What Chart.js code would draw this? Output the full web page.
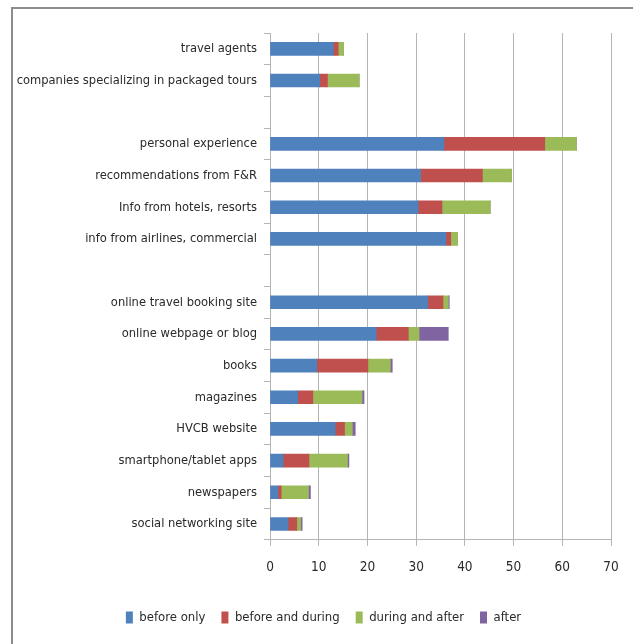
<!DOCTYPE html>
<html>
<head>
<meta charset="utf-8">
<script src="https://cdn.jsdelivr.net/npm/chart.js@4"></script>
<style>
  html, body { margin: 0; padding: 0; background: #fff; overflow: hidden; }
</style>
</head>
<body>
<canvas id="sourcesChart" width="633" height="644"></canvas>
<script>
// sources of travel info, blank entries leave a gap between groups
const categories = [
  'travel agents',
  'companies specializing in packaged tours',
  '',
  'personal experience',
  'recommendations from F&R',
  'Info from hotels, resorts',
  'info from airlines, commercial',
  '',
  'online travel booking site',
  'online webpage or blog',
  'books',
  'magazines',
  'HVCB website',
  'smartphone/tablet apps',
  'newspapers',
  'social networking site'
];

const beforeOnly      = [13.0, 10.2, null, 35.7, 30.9, 30.4, 36.1, null, 32.4, 21.8, 9.6, 5.7, 13.4, 2.7, 1.6, 3.7];
const beforeAndDuring = [1.0, 1.6, null, 20.7, 12.7, 4.9, 1.0, null, 3.1, 6.6, 10.5, 3.1, 1.9, 5.3, 0.7, 1.8];
const duringAndAfter  = [1.1, 6.5, null, 6.5, 6.0, 9.9, 1.4, null, 1.1, 2.2, 4.6, 10.1, 1.6, 7.9, 5.6, 0.8];
const afterOnly       = [0, 0, null, 0, 0, 0, 0, null, 0.2, 6.0, 0.4, 0.4, 0.6, 0.3, 0.4, 0.3];

const xTicks = [0, 10, 20, 30, 40, 50, 60, 70];

const fontFamily = '"Liberation Sans Narrow", "DejaVu Sans Condensed", sans-serif';
const textColor = '#2a2a2a';
const lineColor = '#b4b4b4';

// grey outline of the chart box (top and left edges only, the rest runs off the canvas)
const frameBox = {
  id: 'frameBox',
  beforeDraw(chart) {
    const c = chart.ctx;
    c.save();
    c.strokeStyle = '#8c8c8c';
    c.lineWidth = 2;
    c.beginPath();
    c.moveTo(12, chart.height + 2);
    c.lineTo(12, 8);
    c.lineTo(chart.width + 2, 8);
    c.stroke();
    c.restore();
  }
};

// nudge the legend a little right and down
const legendShift = {
  id: 'legendShift',
  afterLayout(chart) {
    const lg = chart.legend;
    lg.left += 12;
    lg.right += 12;
    lg.top += 5;
    lg.bottom += 5;
  }
};

const ctx = document.getElementById('sourcesChart').getContext('2d');

const sourcesChart = new Chart(ctx, {
  type: 'bar',
  data: {
    labels: categories,
    datasets: [
      { label: 'before only', data: beforeOnly, backgroundColor: '#4f81bd' },
      { label: 'before and during', data: beforeAndDuring, backgroundColor: '#c0504d' },
      { label: 'during and after', data: duringAndAfter, backgroundColor: '#9bbb59' },
      { label: 'after', data: afterOnly, backgroundColor: '#8064a2' }
    ]
  },
  plugins: [frameBox, legendShift],
  options: {
    indexAxis: 'y',
    responsive: false,
    animation: false,
    datasets: { bar: { barThickness: 13 } },
    layout: { padding: { left: 12, right: 22, top: 33, bottom: 15 } },
    scales: {
      x: {
        stacked: true,
        min: 0,
        max: 70,
        afterBuildTicks: function(scale) {
          scale.ticks = xTicks.map(v => ({ value: v }));
        },
        grid: { color: lineColor, tickColor: lineColor, tickLength: 6, lineWidth: 1 },
        border: { color: lineColor },
        ticks: { color: textColor, padding: 14, font: { family: fontFamily, size: 13.5 } }
      },
      y: {
        stacked: true,
        afterFit: function(scale) { scale.width = 258; },
        grid: { drawOnChartArea: false, tickColor: lineColor, tickLength: 6 },
        border: { color: lineColor },
        ticks: { color: textColor, padding: 7, autoSkip: false, font: { family: fontFamily, size: 12.8 } }
      }
    },
    plugins: {
      tooltip: { enabled: false },
      legend: {
        position: 'bottom',
        labels: {
          color: textColor,
          boxWidth: 7,
          boxHeight: 12,
          padding: 16,
          font: { family: fontFamily, size: 13 }
        }
      }
    }
  }
});
</script>
</body>
</html>
